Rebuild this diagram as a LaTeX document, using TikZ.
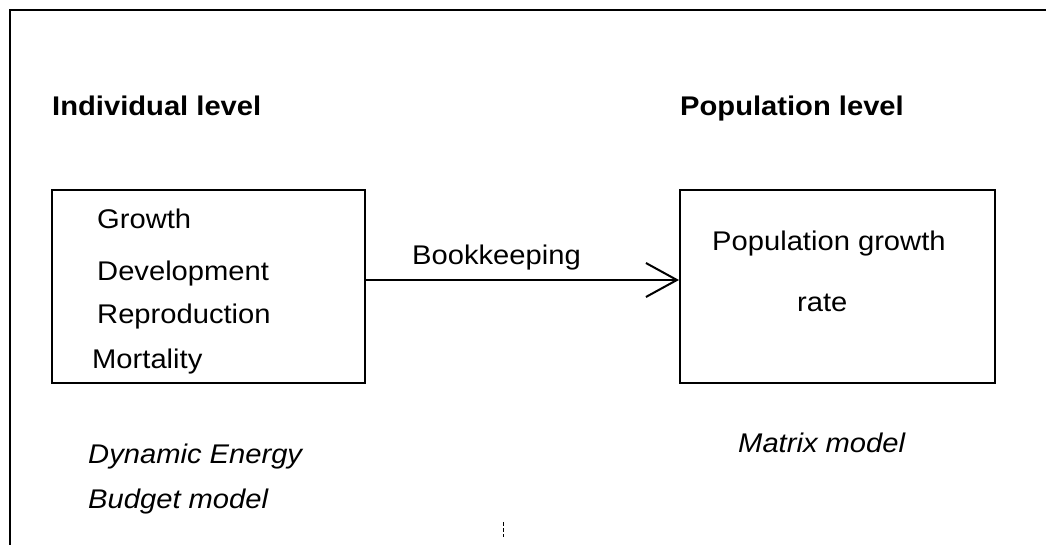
\documentclass[tikz,border=0pt]{standalone}
\usepackage{fontspec}
\setmainfont{Liberation Sans}
\usepackage{graphicx}
\usetikzlibrary{arrows.meta}
\newcommand{\hs}[1]{\scalebox{1.08}[1]{#1}}
\begin{document}
\begin{tikzpicture}[x=1pt,y=-1pt,
  txt/.style={anchor=base west, inner sep=0pt, font=\fontsize{27}{32}\selectfont},
  hdr/.style={anchor=base west, inner sep=0pt, font=\fontsize{27}{32}\selectfont\bfseries},
  mdl/.style={anchor=base west, inner sep=0pt, font=\fontsize{27}{32}\selectfont\itshape},
  boxn/.style={draw, line width=2pt, inner sep=0pt},
  framel/.style={line width=2.5pt}]
\useasboundingbox (0,0) rectangle (1046,545);
\draw[framel] (10,545) -- (10,10) -- (1046,10);
\node[hdr] (hind) at (52,116) {\hs{Individual level}};
\node[hdr] (hpop) at (680,116) {\hs{Population level}};
\node[boxn, minimum width=313pt, minimum height=193pt] (ind) at (208.5,286.5) {};
\node[boxn, minimum width=315pt, minimum height=193pt] (pop) at (837.5,286.5) {};
\node[txt] (t1) at (97,229) {\hs{Growth}};
\node[txt] (t2) at (97,280) {\hs{Development}};
\node[txt] (t3) at (97,323) {\hs{Reproduction}};
\node[txt] (t4) at (92,368) {\hs{Mortality}};
\node[txt] (p1) at (712,251) {\hs{Population growth}};
\node[txt] (p2) at (797,311) {\hs{rate}};
\coordinate (ay) at (0,280);
\draw[line width=2pt, -{Straight Barb[length=31pt,width=34pt]}] (ind.east |- ay) -- (pop.west |- ay);
\node[txt] (bk) at (412,265) {\hs{Bookkeeping}};
\node[mdl] (m1) at (88,463) {\hs{Dynamic Energy}};
\node[mdl] (m2) at (88,508) {\hs{Budget model}};
\node[mdl] (m3) at (738,452) {\hs{Matrix model}};
\coordinate (mk1) at (503,522);
\coordinate (mk2) at (503,537);
\draw[line width=1pt, dash pattern=on 4pt off 2pt] (mk1) -- (mk2);
\end{tikzpicture}
\end{document}
